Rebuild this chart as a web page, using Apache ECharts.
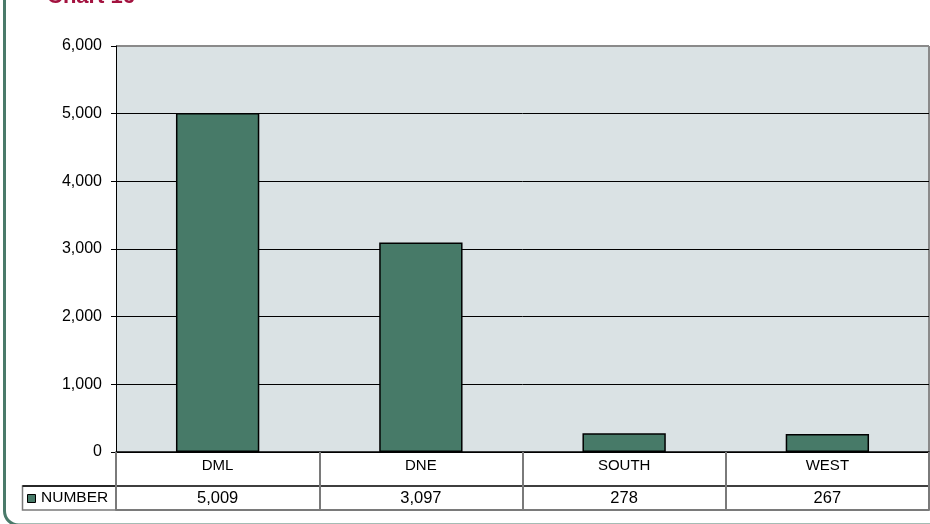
<!DOCTYPE html>
<html>
<head>
<meta charset="utf-8">
<script src="https://cdn.jsdelivr.net/npm/echarts@6/dist/echarts.min.js"></script>
<style>
  html, body { margin: 0; padding: 0; background: #fff; }
  #chart { width: 930px; height: 524px; }
</style>
</head>
<body>
<div id="chart"></div>
<script>
  // chart data
  var categories = ['DML', 'DNE', 'SOUTH', 'WEST'];
  var numberValues = [5009, 3097, 278, 267];
  var seriesName = 'NUMBER';
  var yTicks = [0, 1000, 2000, 3000, 4000, 5000, 6000];

  var barColor = '#477a68';
  var font = 'Liberation Sans, Arial, sans-serif';

  function fmt(v) {
    return v.toLocaleString('en-US');
  }

  var myChart = echarts.init(document.getElementById('chart'));

  myChart.setOption({
    animation: false,
    title: {
      text: 'Chart 16',
      left: 42,
      top: -19,
      textStyle: { color: '#a3123f', fontSize: 22, fontWeight: 'bold', fontFamily: font }
    },
    grid: {
      left: 116, right: 1, top: 46, bottom: 72,
      show: true, backgroundColor: '#dae2e4', borderWidth: 0
    },
    xAxis: [
      {
        type: 'category',
        data: categories,
        axisLine: { lineStyle: { color: '#000', width: 1.5 } },
        axisTick: { show: true, length: 58, lineStyle: { color: '#7a7a7a', width: 2 } },
        axisLabel: { color: '#000', fontSize: 15, fontFamily: font, margin: 6 }
      },
      {
        type: 'category',
        position: 'bottom',
        offset: 34,
        data: numberValues.map(fmt),
        axisLine: { lineStyle: { color: '#000', width: 1.5 } },
        axisTick: { show: false },
        axisLabel: { color: '#000', fontSize: 16.5, fontFamily: font, margin: 4 }
      },
      {
        type: 'category',
        position: 'bottom',
        offset: 58,
        data: categories,
        axisLine: { lineStyle: { color: '#7a7a7a', width: 2 } },
        axisTick: { show: false },
        axisLabel: { show: false }
      }
    ],
    yAxis: {
      type: 'value',
      min: 0,
      max: 6000,
      interval: 1000,
      axisLine: { show: true, lineStyle: { color: '#000', width: 1 } },
      axisTick: { show: true, length: 5, lineStyle: { color: '#000' } },
      axisLabel: {
        color: '#000', fontSize: 16, fontFamily: font, margin: 14,
        formatter: function (v) { return fmt(v); }
      },
      splitLine: {
        show: true,
        lineStyle: { color: yTicks.map(function (t, i) { return i === yTicks.length - 1 ? '#8a8a8a' : '#000'; }), width: 1 }
      }
    },
    series: [
      {
        name: seriesName,
        type: 'bar',
        barWidth: '41%',
        data: numberValues,
        itemStyle: { color: barColor, borderColor: '#000', borderWidth: 1.5 }
      }
    ],
    graphic: [
      // outer green frame
      {
        type: 'rect',
        shape: { x: 4.5, y: -30, width: 960, height: 555, r: 14 },
        style: { fill: 'none', stroke: '#4a7a6a', lineWidth: 3 },
        silent: true
      },
      // top border of plot
      {
        type: 'line',
        shape: { x1: 116, y1: 46, x2: 929, y2: 46 },
        style: { stroke: '#8a8a8a', lineWidth: 2 }
      },
      // right border of plot
      {
        type: 'line',
        shape: { x1: 929, y1: 46, x2: 929, y2: 452 },
        style: { stroke: '#8a8a8a', lineWidth: 2 }
      },
      // legend cell
      {
        type: 'rect',
        shape: { x: 22.5, y: 486, width: 93.5, height: 24 },
        style: { fill: 'none', stroke: '#7a7a7a', lineWidth: 1.5 }
      },
      {
        type: 'line',
        shape: { x1: 22.5, y1: 486, x2: 116, y2: 486 },
        style: { stroke: '#000', lineWidth: 1.5 }
      },
      {
        type: 'rect',
        shape: { x: 27.5, y: 494.5, width: 8, height: 8 },
        style: { fill: barColor, stroke: '#000', lineWidth: 1 }
      },
      {
        type: 'text',
        left: 41,
        top: 490,
        style: { text: seriesName, fill: '#000', font: '15.5px ' + font }
      }
    ]
  });
</script>
</body>
</html>
